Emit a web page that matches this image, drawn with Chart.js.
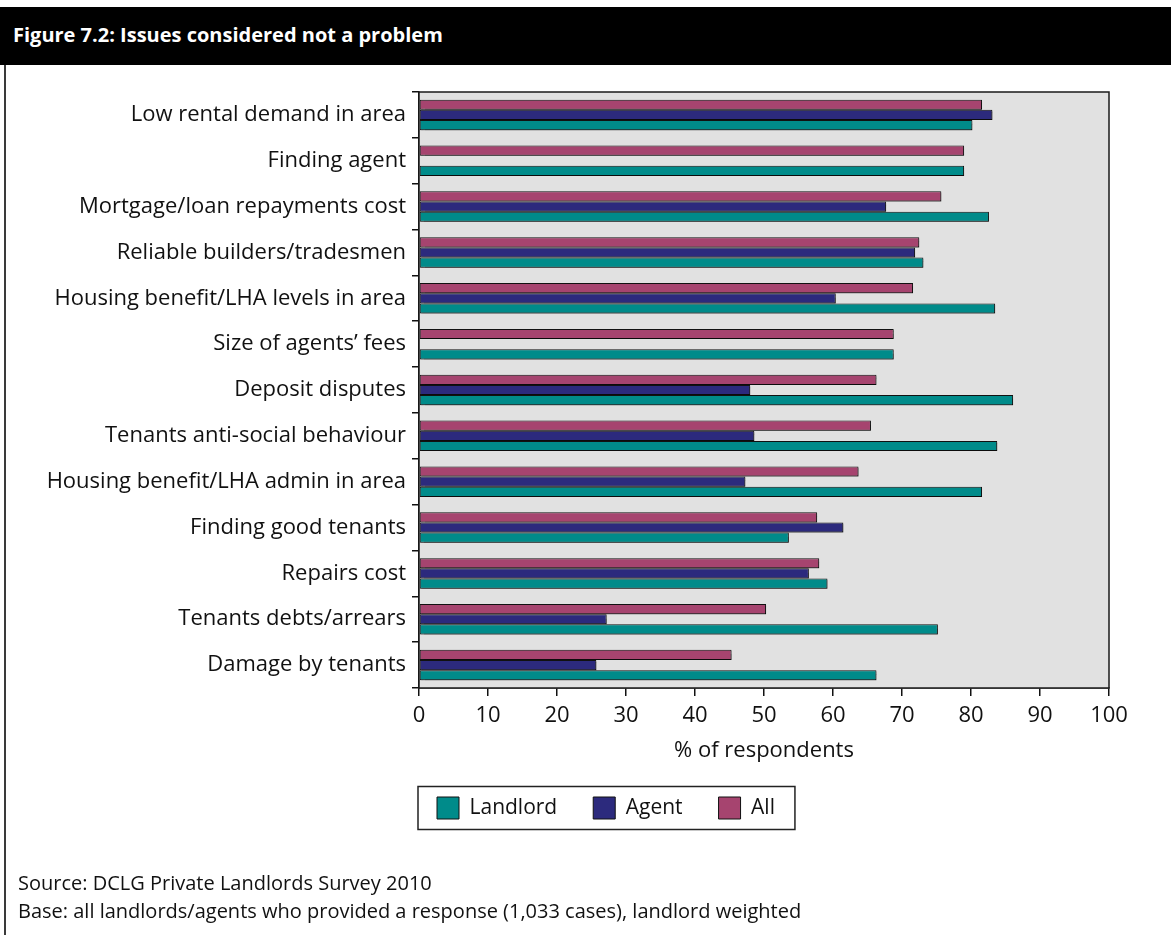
<!DOCTYPE html>
<html>
<head>
<meta charset="utf-8">
<script src="https://cdn.jsdelivr.net/npm/chart.js@4.4.0/dist/chart.umd.min.js"></script>
<style>
html,body{margin:0;padding:0;background:#ffffff;width:1171px;height:935px;overflow:hidden;font-family:"Open Sans",sans-serif;}
#wrap{position:relative;width:1171px;height:935px;}
#chartbox{position:absolute;left:0;top:0;width:1171px;height:935px;}
#title{position:absolute;left:0;top:7px;width:1171px;height:58px;background:#000;color:#fff;font-weight:700;font-size:20px;line-height:56px;padding-left:13px;box-sizing:border-box;white-space:nowrap;}
#frame{position:absolute;left:4px;top:65px;width:0;height:870px;border-left:2px solid #3a3a3a;}
#notes{position:absolute;left:18px;top:869px;font-size:20px;line-height:28px;color:#111;white-space:nowrap;}
</style>
</head>
<body>
<div id="wrap">
  <div id="chartbox"><canvas id="c"></canvas></div>
  <div id="title">Figure 7.2: Issues considered not a problem</div>
  <div id="frame"></div>
  <div id="notes">Source: DCLG Private Landlords Survey 2010<br>Base: all landlords/agents who provided a response (1,033 cases), landlord weighted</div>
</div>
<script>
const categories = [
  "Low rental demand in area",
  "Finding agent",
  "Mortgage/loan repayments cost",
  "Reliable builders/tradesmen",
  "Housing benefit/LHA levels in area",
  "Size of agents\u2019 fees",
  "Deposit disputes",
  "Tenants anti-social behaviour",
  "Housing benefit/LHA admin in area",
  "Finding good tenants",
  "Repairs cost",
  "Tenants debts/arrears",
  "Damage by tenants"
];
const landlordValues = [80.2, 79.0, 82.6, 73.1, 83.5, 68.8, 86.1, 83.8, 81.6, 53.6, 59.2, 75.2, 66.3];
const agentValues    = [83.1, null, 67.7, 71.9, 60.4, null, 48.0, 48.6, 47.3, 61.5, 56.5, 27.2, 25.7];
const allValues      = [81.6, 79.0, 75.7, 72.5, 71.6, 68.8, 66.3, 65.5, 63.7, 57.7, 58.0, 50.3, 45.3];
const xTicks = [0, 10, 20, 30, 40, 50, 60, 70, 80, 90, 100];

const FONT = '"Open Sans", sans-serif';

const plotFrame = {
  id: 'plotFrame',
  beforeDatasetsDraw(chart) {
    const {ctx, chartArea: a} = chart;
    ctx.save();
    ctx.fillStyle = '#e1e1e1';
    ctx.fillRect(a.left, a.top, a.right - a.left, a.bottom - a.top);
    ctx.restore();
    ctx.save();
    ctx.shadowColor = 'rgba(0,0,0,0.35)';
    ctx.shadowOffsetX = 1.5;
    ctx.shadowOffsetY = 1.5;
    ctx.shadowBlur = 1;
  },
  afterDatasetsDraw(chart) {
    chart.ctx.restore();
  },
  afterLayout(chart) {
    const lg = chart.legend;
    if (lg) {
      const h = lg.height;
      lg.left = lg.left - 18; lg.right = lg.right - 18;
      lg.top = 761; lg.bottom = 761 + h;
    }
  },
  afterDraw(chart) {
    const {ctx, chartArea: a} = chart;
    ctx.save();
    ctx.strokeStyle = '#1a1a1a';
    ctx.lineWidth = 1.5;
    ctx.strokeRect(a.left, a.top, a.right - a.left, a.bottom - a.top);
    ctx.restore();
    const lg = chart.legend;
    if (lg && lg.legendHitBoxes && lg.legendHitBoxes.length) {
      const hb = lg.legendHitBoxes;
      const first = hb[0], last = hb[hb.length - 1];
      const cy = first.top + first.height / 2;
      const x0 = first.left - 19, x1 = last.left + last.width + 20;
      ctx.save();
      ctx.strokeStyle = '#222';
      ctx.lineWidth = 1.5;
      ctx.strokeRect(x0, cy - 21.5, x1 - x0, 43);
      ctx.restore();
    }
  }
};

new Chart(document.getElementById('c'), {
  type: 'bar',
  data: {
    labels: categories,
    datasets: [
      {label: 'All', data: allValues, backgroundColor: '#a6446f', borderColor: '#111', borderWidth: 1, borderSkipped: false},
      {label: 'Agent', data: agentValues, backgroundColor: '#2c2a7d', borderColor: '#111', borderWidth: 1, borderSkipped: false},
      {label: 'Landlord', data: landlordValues, backgroundColor: '#008b8a', borderColor: '#111', borderWidth: 1, borderSkipped: false}
    ]
  },
  options: {
    indexAxis: 'y',
    responsive: true,
    maintainAspectRatio: false,
    animation: false,
    categoryPercentage: 0.665,
    barPercentage: 1.0,
    layout: {padding: {left: 0, right: 62, top: 92, bottom: 103}},
    plugins: {
      tooltip: {enabled: false},
      legend: {
        display: true,
        position: 'bottom',
        fullSize: false,
        align: 'start',
        reverse: true,
        labels: {
          boxWidth: 22, boxHeight: 22, padding: 36,
          color: '#111',
          font: {family: FONT, size: 21}
        }
      }
    },
    scales: {
      x: {
        type: 'linear',
        min: 0, max: 100,
        afterBuildTicks(scale) { scale.ticks = xTicks.map(v => ({value: v})); },
        afterFit(scale) { scale.height = 76; },
        grid: {drawOnChartArea: false, drawTicks: true, tickLength: 8, color: '#111', lineWidth: 1.5},
        border: {display: true, color: '#111', width: 1.5},
        ticks: {color: '#111', font: {family: FONT, size: 22}, padding: 7, maxRotation: 0},
        title: {display: true, text: '% of respondents', color: '#111', font: {family: FONT, size: 22}, padding: {top: 0, bottom: 0}}
      },
      y: {
        type: 'category',
        afterFit(scale) { scale.width = 419; },
        grid: {drawOnChartArea: false, drawTicks: true, tickLength: 7, color: '#111', lineWidth: 1.5, offset: true},
        border: {display: true, color: '#111', width: 1.5},
        ticks: {color: '#111', font: {family: FONT, size: 22}, padding: 6, autoSkip: false}
      }
    }
  },
  plugins: [plotFrame]
});
</script>
</body>
</html>
